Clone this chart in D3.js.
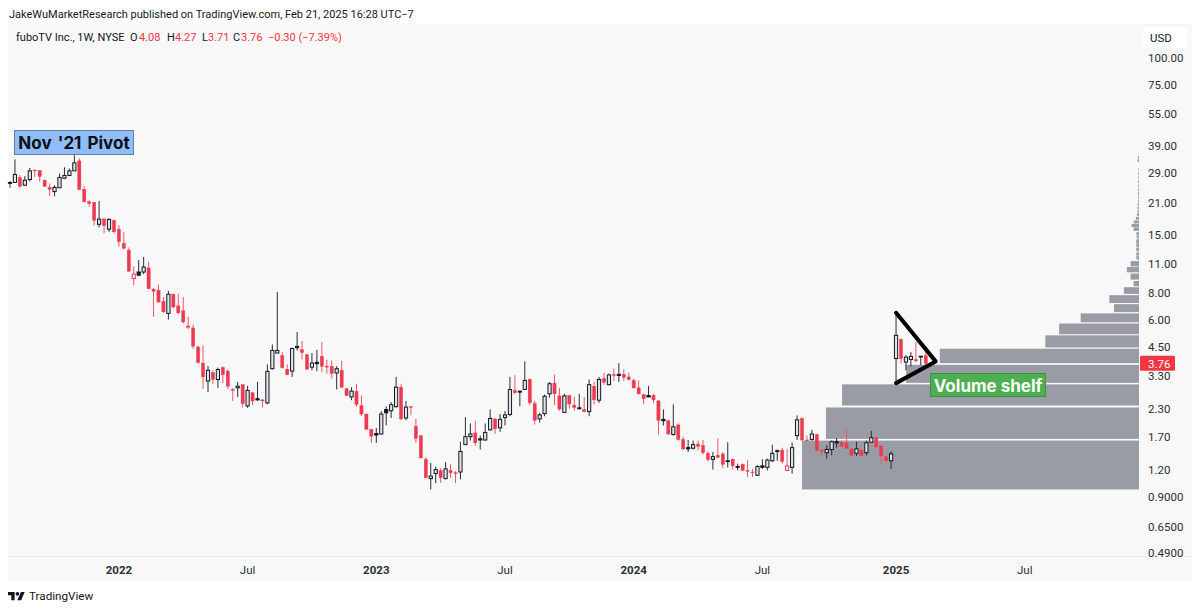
<!DOCTYPE html>
<html><head><meta charset="utf-8">
<script src="https://cdnjs.cloudflare.com/ajax/libs/d3/7.8.5/d3.min.js"></script>
<style>html,body{margin:0;padding:0;background:#fff}svg{display:block}text{font-family:Roboto,"Liberation Sans",sans-serif}</style>
</head><body><svg id="c" width="1200" height="611"></svg>
<script>
// Weekly candles, first bar week of 2021-08-02
const firstWeek = "2021-08-02";
const highs = [
26.6,33.6,28.4,28.1,30.7,30.2,30.0,27.1,26.0,25.5,
28.9,30.9,30.5,35.2,34.0,25.2,21.7,21.25,21.5,17.85,
17.85,17.65,16.6,15.45,13.05,10.65,11.4,11.8,11.18,8.45,
8.76,7.67,8.19,7.96,7.96,7.67,6.19,5.7,4.56,4.56,
3.65,3.49,3.59,3.64,3.52,2.88,3.08,3.0,2.95,2.76,
3.08,2.55,3.72,4.6,8.1,4.24,3.72,4.45,5.27,4.78,
4.14,4.2,4.35,4.73,3.91,3.88,3.65,3.85,2.89,2.91,
3.02,2.66,2.19,1.86,1.88,2.25,2.37,2.48,3.25,3.02,
2.51,2.37,2.07,1.73,1.37,1.29,1.24,1.22,1.3,1.27,
1.18,1.62,2.11,1.97,2.03,1.73,1.97,2.29,2.07,2.18,
2.25,3.25,3.31,2.79,3.84,3.19,2.51,2.21,2.69,3.08,
3.33,2.89,2.71,2.68,2.62,2.71,2.62,3.16,3.08,3.25,
3.4,3.37,3.55,3.77,3.52,3.4,3.19,3.13,2.71,2.95,
2.71,2.54,2.29,2.04,2.42,1.97,1.71,1.65,1.64,1.64,
1.65,1.46,1.45,1.68,1.45,1.61,1.35,1.28,1.28,1.33,
1.21,1.26,1.34,1.35,1.57,1.49,1.52,1.5,1.61,2.15,
2.1,1.73,1.84,1.76,1.48,1.56,1.64,1.68,1.64,1.85,
1.51,1.62,1.5,1.64,1.82,1.71,1.56,1.39,1.46,6.47,
4.9,4.1,4.24,4.73,4.06,4.27];
const bodyTops = [
26.25,28.6,27.7,26.9,29.75,30.0,29.9,26.9,24.9,24.9,
27.7,28.3,29.75,32.4,33.1,24.4,21.35,21.2,17.7,17.75,
17.65,17.45,15.9,13.65,12.7,9.8,10.03,10.58,10.48,8.34,
8.25,7.33,7.9,7.9,6.97,6.61,5.62,5.5,4.48,3.77,
3.49,3.4,3.52,3.59,3.46,2.84,2.94,2.99,2.81,2.74,
2.57,2.54,3.45,4.32,4.32,4.08,3.53,4.41,4.51,4.36,
4.13,3.77,3.8,4.05,3.65,3.64,3.55,3.49,2.86,2.79,
2.78,2.39,2.18,1.85,1.77,2.18,2.29,2.41,2.91,2.91,
2.35,2.36,1.91,1.73,1.34,1.12,1.2,1.19,1.21,1.19,
1.16,1.46,1.71,1.76,1.78,1.67,1.79,2.08,2.07,2.06,
2.16,2.84,2.81,2.79,3.13,3.17,2.44,2.16,2.64,3.02,
3.04,2.65,2.65,2.66,2.4,2.33,2.29,2.99,2.94,3.16,
3.19,3.32,3.33,3.34,3.34,3.25,3.13,2.89,2.69,2.66,
2.66,2.51,2.06,2.03,1.9,1.94,1.66,1.52,1.57,1.58,
1.56,1.43,1.38,1.4,1.42,1.32,1.34,1.24,1.27,1.19,
1.17,1.24,1.25,1.33,1.43,1.47,1.48,1.25,1.52,2.05,
2.08,1.65,1.76,1.75,1.48,1.49,1.62,1.62,1.61,1.6,
1.5,1.5,1.48,1.6,1.69,1.69,1.55,1.38,1.42,5.08,
4.87,4.02,4.05,3.91,4.06,4.08];
const bodyBottoms = [
26.0,26.25,25.2,25.5,27.1,29.75,28.0,25.2,24.4,23.8,
24.8,27.5,28.3,29.75,24.35,21.35,20.9,17.5,16.75,16.5,
15.9,15.45,13.9,12.95,10.13,9.35,9.7,10.03,8.37,8.16,
7.27,6.54,6.43,6.89,6.47,5.87,5.54,4.52,3.79,3.25,
3.11,3.16,3.16,3.33,2.94,2.81,2.89,2.44,2.38,2.51,
2.54,2.51,2.46,3.55,4.2,3.59,3.33,3.46,4.45,4.22,
3.53,3.61,3.75,3.64,3.61,3.37,3.39,2.91,2.66,2.62,
2.42,2.18,1.85,1.72,1.74,1.76,2.21,2.26,2.36,2.07,
2.09,2.34,1.68,1.36,1.1,1.09,1.15,1.1,1.09,1.16,
1.15,1.17,1.57,1.71,1.6,1.65,1.65,1.84,1.86,1.88,
2.1,2.17,2.74,2.76,2.84,2.46,2.04,2.07,2.19,2.71,
2.71,2.3,2.22,2.43,2.34,2.31,2.24,2.24,2.54,2.53,
3.07,2.99,3.3,3.3,3.24,3.16,2.89,2.71,2.57,2.62,
2.54,2.04,2.03,1.76,1.75,1.66,1.5,1.5,1.51,1.54,
1.44,1.34,1.34,1.37,1.27,1.31,1.25,1.23,1.19,1.18,
1.16,1.13,1.23,1.23,1.32,1.46,1.31,1.19,1.23,1.73,
1.65,1.64,1.66,1.47,1.46,1.44,1.49,1.6,1.54,1.51,
1.4,1.43,1.4,1.44,1.61,1.53,1.39,1.32,1.32,3.96,
3.96,3.81,3.92,3.86,4.03,3.76];
const lows = [
24.8,26.25,24.8,25.3,26.5,27.9,26.5,25.0,22.7,22.65,
24.8,27.2,28.1,29.75,24.35,21.2,20.2,16.55,16.2,15.2,
15.45,15.2,13.15,12.8,10.03,8.7,9.6,9.8,8.37,6.19,
7.23,6.47,6.02,6.78,6.38,5.77,5.42,4.4,3.75,2.86,
2.76,3.0,2.89,3.04,2.86,2.51,2.62,2.34,2.33,2.4,
2.51,2.34,2.42,3.52,4.2,3.55,3.31,3.25,4.32,3.92,
3.52,3.49,3.46,3.42,3.37,3.19,2.84,2.88,2.65,2.53,
2.36,2.13,1.85,1.6,1.6,1.75,1.93,2.09,2.34,2.04,
2.04,2.15,1.6,1.36,1.1,0.97,1.04,1.04,1.08,1.1,
1.04,1.08,1.57,1.64,1.55,1.49,1.64,1.83,1.76,1.8,
1.93,2.13,2.71,2.37,2.84,2.4,1.95,1.99,2.13,2.6,
2.4,2.26,2.21,2.31,2.26,2.29,2.22,2.13,2.42,2.46,
2.99,2.97,3.11,3.08,3.11,3.13,2.86,2.69,2.42,2.62,
2.45,1.75,1.93,1.74,1.73,1.64,1.48,1.45,1.49,1.48,
1.41,1.31,1.2,1.36,1.22,1.23,1.2,1.19,1.18,1.11,
1.11,1.12,1.21,1.19,1.3,1.32,1.28,1.18,1.15,1.65,
1.64,1.64,1.64,1.46,1.37,1.35,1.4,1.52,1.53,1.5,
1.37,1.39,1.38,1.4,1.61,1.52,1.27,1.3,1.21,3.04,
3.75,3.49,3.64,3.82,3.68,3.71];
// u hollow up, d solid red, h hollow red, b solid black
const kinds = ("uuduuddddu"+"uuuuddddud"+"uddddhbudd"+"ddu"+"ddddddd"+"ududddudud"+"bduuudduud"+"dubddduddu"+"ddddbubuud"+"udddduudud"+"duuudbuudu"+"uudbudduuu"+"ddud"+"dbdudu"+"dududddddb"+"ddbduddbud"+"dduddbdbdd"+"dubuubdhuu"+"ddudduubdd"+"duduuddduu"+"duudud").split("");

// Volume profile: price bands and relative volume
const vpLow  = [0.97,1.67,2.39,3.05,3.77,4.46,5.14,5.85,6.52,7.19,7.93,8.61,9.25,10.0,10.65,11.47,11.97,12.55,13.15,13.7,14.4,14.9,15.6,16.25,16.9,17.6,18.35,19.0,19.7,20.5,21.25,22.1,22.9,23.9,24.95,26.05,27.2,28.4,29.65,32.67,34.0];
const vpHigh = [1.64,2.34,3.0,3.70,4.40,5.08,5.77,6.43,7.10,7.82,8.52,9.11,9.87,10.58,11.28,11.9,12.4,13.05,13.65,14.25,14.85,15.4,16.2,16.8,17.45,18.15,18.85,19.5,20.25,21.0,21.85,22.65,23.65,24.7,25.75,26.9,28.1,29.35,30.6,33.74,34.85];
const vpVol  = [100,92.9,88.1,69.1,59.1,27.8,23.7,17.3,7.4,8.8,4.5,1.6,2.5,3.6,2.5,0.8,0.8,0.8,0.8,0.8,0.7,0.75,1.6,2.2,1.6,0.9,0.6,0.45,0.45,0.4,0.3,0.3,0.3,0.25,0.25,0.25,0.2,0.2,0.15,0.45,0.3];

const priceTicks = [100,75,55,39,29,21,15,11,8,6,4.5,3.3,2.3,1.7,1.2,0.9,0.65,0.49];
const timeTicks = ["2022-01-03","2022-07-04","2023-01-02","2023-07-03","2024-01-01","2024-07-01","2025-01-06","2025-07-07"];
const timeLabels = ["2022","Jul","2023","Jul","2024","Jul","2025","Jul"];
const lastPrice = 3.76;
const legendParts = [["fuboTV Inc., 1W, NYSE",16,"#131722"],["O",130,"#131722"],["4.08",139,"#f23645"],["H",167,"#131722"],["4.27",175,"#f23645"],["L",202,"#131722"],["3.71",208,"#f23645"],["C",233,"#131722"],["3.76",241,"#f23645"],["\u22120.30 (\u22127.39%)",268,"#f23645"]];
// Triangle annotation: bar index, price
const triBars = [179,187,179];
const triPrices = [6.47,3.84,3.04];

const svg = d3.select("#c");
const parse = d3.utcParse("%Y-%m-%d");
const t0 = parse(firstWeek);
const week = 7*864e5;
const x = d3.scaleUtc().domain([t0, new Date(+t0+week*100)]).range([10, 505]);
const y = d3.scaleLog().domain([100,0.49]).range([58,553]);
const vx = d3.scaleLinear().domain([0,100]).range([1139,802]);
const barX = i => x(new Date(+t0+week*i));

// panes
svg.append("rect").attr("x",8).attr("y",24).attr("width",1184).attr("height",557).attr("fill","#f8f8f8");
svg.append("line").attr("x1",8).attr("x2",1192).attr("y1",556.5).attr("y2",556.5).attr("stroke","#ececec");

// volume profile
svg.append("g").selectAll("rect").data(vpVol).join("rect")
 .attr("x",d=>vx(d)).attr("width",d=>vx(0)-vx(d))
 .attr("y",(d,i)=>y(vpHigh[i])).attr("height",(d,i)=>y(vpLow[i])-y(vpHigh[i]))
 .attr("fill","#9a9ca5");

// candles
const red="#ee3a50", blk="#131722";
const candles = svg.append("g");
const isRed = k => k==="d"||k==="h";
candles.selectAll("line").data(highs).join("line")
 .attr("x1",(d,i)=>barX(i)).attr("x2",(d,i)=>barX(i))
 .attr("y1",d=>y(d)).attr("y2",(d,i)=>y(lows[i]))
 .attr("stroke",(d,i)=>isRed(kinds[i])?"#f0566a":"#2a2c33").attr("stroke-width",1);
const bw=3.2;
candles.selectAll("rect").data(bodyTops).join("rect")
 .attr("x",(d,i)=>barX(i)-bw/2).attr("width",bw)
 .attr("y",d=>y(d)).attr("height",(d,i)=>Math.max(0.8,y(bodyBottoms[i])-y(d)))
 .attr("fill",(d,i)=>({u:"#e4e4e6",d:red,h:"#f8f8f8",b:blk})[kinds[i]])
 .attr("stroke",(d,i)=>isRed(kinds[i])?red:blk).attr("stroke-width",(d,i)=>kinds[i]==="d"?0.4:1);

// triangle
const triLine = d3.line().x((d,i)=>barX(d)).y((d,i)=>y(triPrices[i]));
svg.append("path").attr("d",triLine(triBars)).attr("fill","none").attr("stroke","#000").attr("stroke-width",4).attr("stroke-linejoin","round").attr("stroke-linecap","round");

// axes
const yAxis = d3.axisRight(y).tickValues(priceTicks).tickSize(0).tickPadding(0).tickFormat(d=>d<1?d.toFixed(4):d.toFixed(2));
const gy = svg.append("g").attr("transform","translate(1148,0)").call(yAxis);
gy.select(".domain").remove();
gy.selectAll("text").attr("font-size",11.5).attr("fill","#2a2e39").style("font-family","Roboto");
const xAxis = d3.axisBottom(x).tickValues(timeTicks.map(parse)).tickSize(0).tickPadding(0).tickFormat((d,i)=>timeLabels[i]);
const gx = svg.append("g").attr("transform","translate(-0.5,566)").call(xAxis);
gx.select(".domain").remove();
gx.selectAll("text").attr("font-size",11.5).attr("fill","#2a2e39").attr("font-weight",(d,i)=>timeLabels[i]==="Jul"?400:700).style("font-family","Roboto");

// price tag
svg.append("rect").attr("x",1140).attr("y",y(lastPrice)-7.5).attr("width",35).attr("height",15).attr("rx",1.5).attr("fill","#f23645");
svg.append("text").attr("x",1148).attr("y",y(lastPrice)+4.5).attr("font-size",11.5).attr("fill","#fff").text(lastPrice.toFixed(2));

// USD button
svg.append("rect").attr("x",1143).attr("y",27).attr("width",44).attr("height",21).attr("rx",3).attr("fill","#fff");
svg.append("text").attr("x",1161).attr("y",42).attr("text-anchor","middle").attr("font-size",11.5).attr("fill","#131722").text("USD");

// header & legend
svg.append("text").attr("x",9).attr("y",18).attr("font-size",11).attr("fill","#131722").text("JakeWuMarketResearch published on TradingView.com, Feb 21, 2025 16:28 UTC\u22127");
svg.append("g").selectAll("text").data(legendParts).join("text").attr("x",d=>d[1]).attr("y",41).attr("font-size",11).attr("fill",d=>d[2]).text(d=>d[0]);

// callouts
svg.append("rect").attr("x",14.5).attr("y",130.5).attr("width",119).attr("height",24).attr("fill","#90bcf8").attr("stroke","#5f7fa8");
svg.append("text").attr("x",74).attr("y",149).attr("text-anchor","middle").attr("font-size",17).attr("font-weight",700).attr("word-spacing",2).attr("fill","#0b0e14").style("font-family","Inter").text("Nov '21 Pivot");
svg.append("rect").attr("x",930.5).attr("y",373.5).attr("width",115).attr("height",23).attr("fill","#4caf50").attr("stroke","#3f8f45");
svg.append("text").attr("x",988).attr("y",391.5).attr("text-anchor","middle").attr("font-size",17).attr("font-weight",700).attr("fill","#fff").style("font-family","Inter").text("Volume shelf");

// footer logo
const logo = svg.append("g").attr("transform","translate(8,590) scale(0.47)").attr("fill","#131722");
logo.append("path").attr("d","M14 22H7V11H0V4h14v18zM28 22h-8l7.5-18h8L28 22z");
logo.append("circle").attr("cx",20).attr("cy",8).attr("r",4);
svg.append("text").attr("x",29).attr("y",600).attr("font-size",11.7).attr("fill","#131722").text("TradingView");

if(kinds.length!==186||highs.length!==186||lows.length!==186||bodyTops.length!==186||bodyBottoms.length!==186) throw new Error("len "+[kinds.length,highs.length,lows.length,bodyTops.length,bodyBottoms.length]);
</script></body></html>
